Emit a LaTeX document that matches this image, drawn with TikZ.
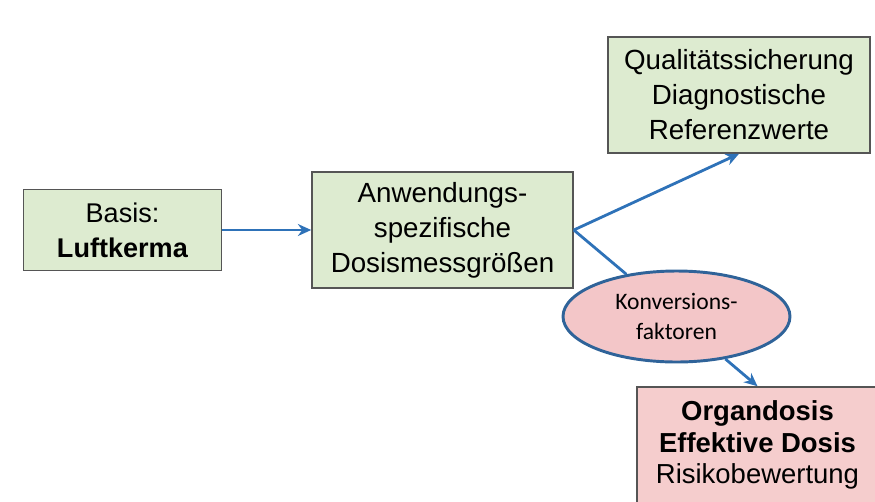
\documentclass[tikz,border=0pt]{standalone}
\usepackage{fontspec}
\setmainfont{Liberation Sans}
\newfontfamily\calib{Carlito}
\usetikzlibrary{shapes.geometric,arrows.meta}
\definecolor{boxgreen}{HTML}{DDEBD0}
\definecolor{boxpink}{HTML}{F5CDCD}
\definecolor{ellpink}{HTML}{F3C6C8}
\definecolor{arrblue}{HTML}{2E72B8}
\definecolor{ellblue}{HTML}{2F6399}
\definecolor{frame}{HTML}{555555}
\begin{document}
\begin{tikzpicture}[x=0.75pt,y=-0.75pt,
  greenbox/.style={draw=frame,line width=1.2pt,fill=boxgreen,align=center,inner sep=0pt,
    font=\fontsize{20.8}{26.3}\selectfont},
  pinkbox/.style={draw=frame,line width=1.2pt,fill=boxpink,align=center,inner sep=0pt,
    font=\fontsize{20.6}{23.5}\selectfont},
  conv/.style={draw=ellblue,line width=2.2pt,fill=ellpink,ellipse,align=center,inner sep=0pt,
    font=\calib\fontsize{17.7}{23}\selectfont},
  link/.style={draw=arrblue,line width=2.1pt},
  arr/.style={link,-{Stealth[length=10pt,width=9pt]}}]
\useasboundingbox (0,0) rectangle (875,501);
\node[greenbox,font=\fontsize{20.3}{26}\selectfont,minimum width={198*0.75pt},minimum height={81*0.75pt}] (basis) at (122.5,230)
  {Basis:\\\textbf{Luftkerma}};
\node[greenbox,minimum width={261*0.75pt},minimum height={116*0.75pt}] (anw) at (442.5,230)
  {Anwendungs-\\spezifische\\Dosismessgrößen};
\node[greenbox,minimum width={262*0.75pt},minimum height={116*0.75pt}] (qual) at (739,95)
  {Qualitätssicherung\\Diagnostische\\Referenzwerte};
\node[conv,minimum width={227*0.75pt},minimum height={91*0.75pt}] (ell) at (676.5,316.5)
  {Konversions-\\faktoren};
\node[pinkbox,minimum width={241*0.75pt},minimum height={116*0.75pt}] (org) at (757.5,445)
  {\textbf{Organdosis}\\\textbf{Effektive Dosis}\\Risikobewertung};
\draw[arr] (basis.east) -- (anw.west);
\draw[arr] (anw.east) -- (qual.south);
\draw[link] (anw.east) -- (ell);
\draw[arr] (ell.-41) -- (org.north);
\end{tikzpicture}
\end{document}
